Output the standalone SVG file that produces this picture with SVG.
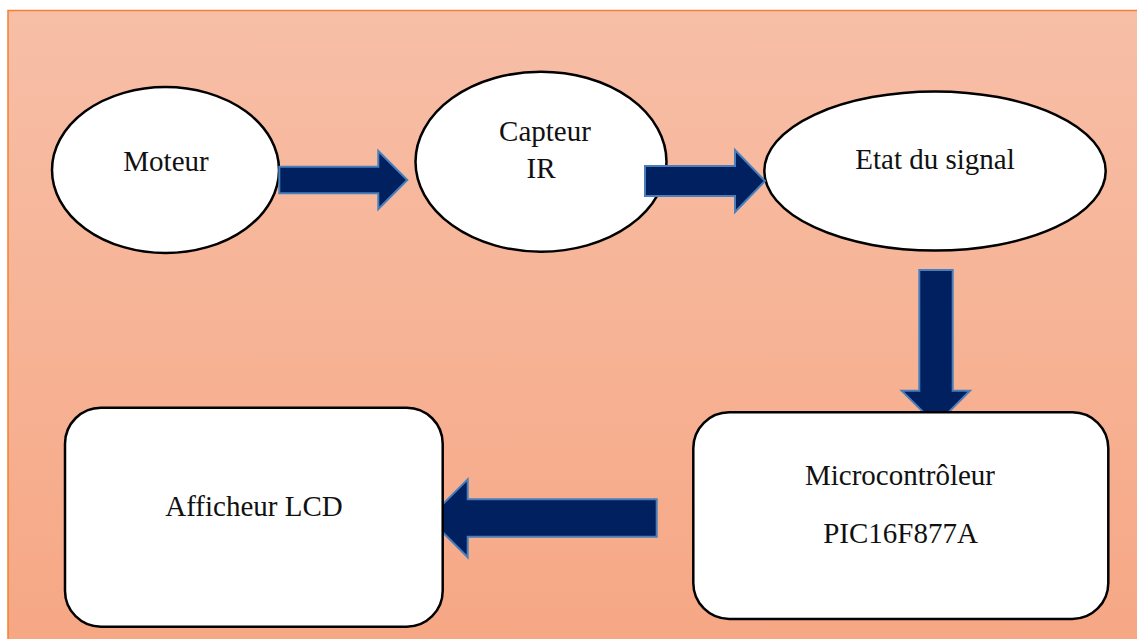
<svg xmlns="http://www.w3.org/2000/svg" width="1137" height="639" viewBox="0 0 1137 639">
  <defs>
    <linearGradient id="bg" x1="0" y1="0" x2="0" y2="1">
      <stop offset="0" stop-color="#F7BFA7"/>
      <stop offset="1" stop-color="#F6A784"/>
    </linearGradient>
    <style>
      .node { fill: #FFFFFF; stroke: #000000; stroke-width: 2.5; }
      .arrow { fill: #002060; stroke: #4A7EBB; stroke-width: 2; stroke-linejoin: miter; }
      .label { font-family: "Liberation Serif", "Times New Roman", serif; font-size: 29px; fill: #111111; text-anchor: middle; }
    </style>
  </defs>
  <rect x="0" y="0" width="1137" height="639" fill="#FFFFFF"/>
  <rect x="8" y="10.5" width="1140" height="640" fill="url(#bg)" stroke="#F4812F" stroke-width="1.5"/>

  <g id="moteur">
    <ellipse class="node" cx="165.5" cy="170" rx="113.5" ry="83"/>
    <text class="label" x="166" y="171">Moteur</text>
  </g>
  <g id="capteur-ir">
    <ellipse class="node" cx="541" cy="161.7" rx="125.5" ry="90"/>
    <text class="label" x="545" y="141">Capteur</text>
    <text class="label" x="541" y="178">IR</text>
  </g>
  <g id="etat-signal">
    <ellipse class="node" cx="935" cy="171" rx="170.7" ry="79.5"/>
    <text class="label" x="935" y="169">Etat du signal</text>
  </g>

  <g id="connectors">
    <path class="arrow" d="M279.3,166.7 H378.3 V151 L407.3,180 L378.3,209 V193.3 H279.3 Z"/>
    <path class="arrow" d="M645,166 H735 V150 L765,181 L735,212 V196 H645 Z"/>
    <path class="arrow" d="M919.3,270 H952.7 V390.7 H970 L936,424.7 L901.7,390.7 H919.3 Z"/>
    <path class="arrow" d="M656.7,499.3 V536.7 H467.7 V557.3 L428.7,518.3 L467.7,479.3 V499.3 Z"/>
  </g>

  <g id="afficheur-lcd">
    <rect class="node" x="65" y="407.7" width="377.7" height="219" rx="36" ry="36"/>
    <text class="label" x="254" y="515.7">Afficheur LCD</text>
  </g>
  <g id="microcontroleur">
    <rect class="node" x="693.3" y="412.3" width="415" height="206.7" rx="36" ry="36"/>
    <text class="label" x="900" y="485">Microcontrôleur</text>
    <text class="label" x="900.5" y="543.3">PIC16F877A</text>
  </g>
</svg>
